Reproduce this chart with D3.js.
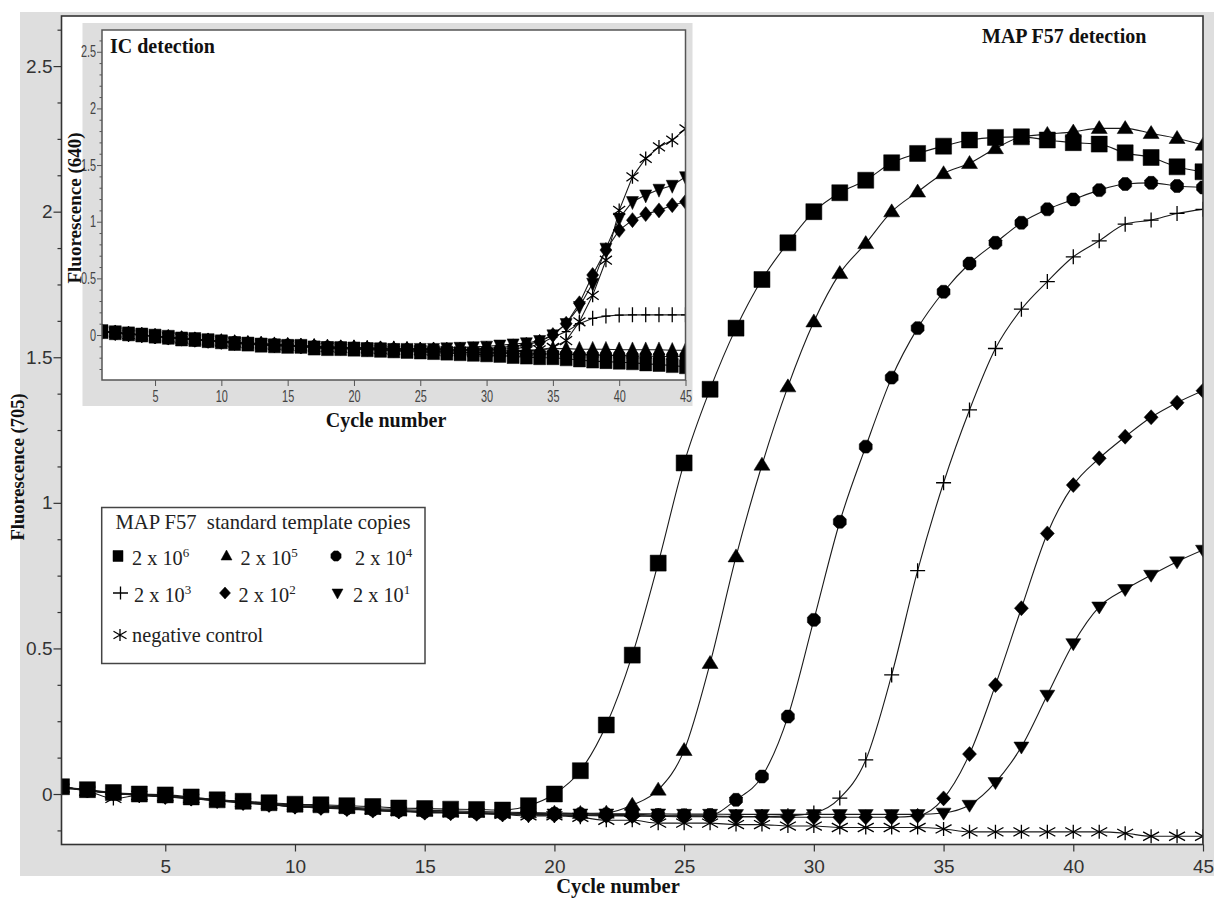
<!DOCTYPE html>
<html><head><meta charset="utf-8">
<script src="https://cdn.jsdelivr.net/npm/d3@7"></script>
<style>body{margin:0;background:#fff} svg{display:block}</style>
</head><body>
<svg id="chart" width="1214" height="899"></svg>
<script>
// ---------------- DATA ----------------
const cycles = [1,2,3,4,5,6,7,8,9,10,11,12,13,14,15,16,17,18,19,20,21,22,23,24,25,26,27,28,29,30,31,32,33,34,35,36,37,38,39,40,41,42,43,44,45];
const xTicks = [5,10,15,20,25,30,35,40,45];
const mainYTicks = [0,0.5,1,1.5,2,2.5];
const mainYMinor = [-0.125,0.125,0.25,0.375,0.625,0.75,0.875,1.125,1.25,1.375,1.625,1.75,1.875,2.125,2.25,2.375,2.625];
const insetYTicks = [0,0.5,1,1.5,2,2.5];
const insetYMinor = [-0.3,-0.2,-0.1,0.1,0.2,0.3,0.4,0.6,0.7,0.8,0.9,1.1,1.2,1.3,1.4,1.6,1.7,1.8,1.9,2.1,2.2,2.3,2.4,2.6];

// MAP F57 detection, Fluorescence (705)
const map2e6 = [0.025,0.015,0.005,0.0,-0.003,-0.01,-0.02,-0.025,-0.03,-0.035,-0.037,-0.04,-0.043,-0.048,-0.05,-0.052,-0.053,-0.055,-0.04,0.0,
  0.08,0.237,0.477,0.793,1.137,1.39,1.60,1.767,1.893,2.0,2.065,2.108,2.168,2.2,2.225,2.246,2.255,2.257,2.246,2.237,2.232,2.202,2.186,2.154,2.137];
const map2e5 = [0.025,0.012,0.003,-0.002,-0.006,-0.012,-0.02,-0.026,-0.032,-0.037,-0.04,-0.045,-0.05,-0.053,-0.056,-0.058,-0.06,-0.062,-0.064,-0.065,-0.066,-0.065,
  -0.038,0.014,0.15,0.449,0.815,1.13,1.399,1.622,1.788,1.891,2.0,2.068,2.131,2.166,2.217,2.257,2.266,2.274,2.286,2.286,2.269,2.252,2.229];
const map2e4 = [0.025,0.012,0.002,-0.003,-0.008,-0.014,-0.022,-0.028,-0.034,-0.04,-0.043,-0.048,-0.053,-0.057,-0.06,-0.062,-0.064,-0.066,-0.067,-0.068,-0.069,-0.07,-0.07,-0.072,-0.073,-0.072,
  -0.02,0.06,0.266,0.598,0.935,1.193,1.43,1.6,1.725,1.822,1.893,1.962,2.008,2.042,2.074,2.095,2.099,2.088,2.083];
const map2e3 = [0.025,0.012,0.002,-0.004,-0.009,-0.015,-0.023,-0.03,-0.036,-0.042,-0.046,-0.05,-0.055,-0.058,-0.062,-0.064,-0.066,-0.068,-0.07,-0.071,-0.072,-0.073,-0.074,-0.075,-0.076,-0.076,-0.077,-0.077,-0.075,-0.065,
  -0.014,0.117,0.409,0.767,1.069,1.319,1.53,1.665,1.76,1.845,1.9,1.957,1.971,1.994,2.008];
const map2e2 = [0.025,0.012,0.002,-0.004,-0.01,-0.016,-0.024,-0.031,-0.038,-0.044,-0.048,-0.052,-0.057,-0.06,-0.064,-0.066,-0.068,-0.07,-0.072,-0.073,-0.074,-0.075,-0.076,-0.077,-0.078,-0.078,-0.079,-0.079,-0.08,-0.08,-0.08,-0.08,-0.08,-0.075,
  -0.015,0.137,0.374,0.638,0.895,1.061,1.153,1.227,1.294,1.344,1.385];
const map2e1 = [0.025,0.013,0.003,-0.003,-0.008,-0.014,-0.022,-0.029,-0.035,-0.041,-0.045,-0.05,-0.054,-0.058,-0.061,-0.063,-0.065,-0.066,-0.067,-0.068,-0.068,-0.068,-0.068,-0.068,-0.069,-0.069,-0.07,-0.07,-0.07,-0.07,-0.07,-0.07,-0.07,-0.07,-0.065,
  -0.038,0.04,0.162,0.34,0.517,0.643,0.703,0.752,0.798,0.838];
const mapNeg = [0.02,0.01,-0.015,-0.005,-0.01,-0.015,-0.02,-0.03,-0.035,-0.045,-0.045,-0.05,-0.055,-0.06,-0.06,-0.065,-0.065,-0.07,-0.075,-0.075,-0.08,-0.09,-0.09,-0.1,-0.1,-0.1,-0.105,-0.105,-0.11,-0.11,-0.115,-0.115,-0.115,-0.115,-0.12,-0.13,-0.13,-0.13,-0.13,-0.13,-0.13,-0.135,-0.145,-0.145,-0.145];

// IC detection, Fluorescence (640)
const ic2e6 = [0.03,0.02,0.01,0.0,-0.01,-0.02,-0.035,-0.04,-0.05,-0.06,-0.075,-0.08,-0.09,-0.095,-0.1,-0.1,-0.115,-0.12,-0.12,-0.125,-0.13,-0.135,-0.14,-0.145,-0.15,-0.155,-0.16,-0.165,-0.17,-0.175,-0.18,-0.19,-0.195,-0.2,-0.2,-0.21,-0.22,-0.23,-0.235,-0.24,-0.245,-0.255,-0.26,-0.27,-0.28];
const ic2e5 = [0.03,0.02,0.01,0.0,-0.01,-0.02,-0.03,-0.04,-0.05,-0.055,-0.065,-0.07,-0.08,-0.085,-0.09,-0.095,-0.1,-0.105,-0.11,-0.11,-0.115,-0.12,-0.12,-0.125,-0.13,-0.13,-0.135,-0.135,-0.14,-0.14,-0.14,-0.14,-0.135,-0.13,-0.12,-0.12,-0.125,-0.125,-0.125,-0.13,-0.13,-0.13,-0.13,-0.135,-0.135];
const ic2e4 = [0.03,0.02,0.01,0.0,-0.012,-0.022,-0.035,-0.042,-0.052,-0.06,-0.07,-0.078,-0.085,-0.09,-0.095,-0.1,-0.108,-0.112,-0.116,-0.12,-0.124,-0.128,-0.132,-0.136,-0.14,-0.145,-0.148,-0.152,-0.156,-0.16,-0.162,-0.165,-0.165,-0.165,-0.17,-0.17,-0.175,-0.175,-0.18,-0.18,-0.185,-0.185,-0.19,-0.19,-0.19];
const ic2e3 = [0.03,0.02,0.01,0.0,-0.01,-0.02,-0.03,-0.04,-0.05,-0.06,-0.065,-0.075,-0.08,-0.085,-0.09,-0.095,-0.1,-0.105,-0.11,-0.11,-0.115,-0.12,-0.12,-0.125,-0.13,-0.13,-0.135,-0.135,-0.13,-0.13,-0.125,-0.12,-0.11,-0.08,
  -0.02,0.03,0.10,0.147,0.167,0.176,0.178,0.178,0.178,0.178,0.178];
const ic2e2 = [0.03,0.02,0.01,0.0,-0.01,-0.02,-0.03,-0.04,-0.05,-0.06,-0.07,-0.075,-0.08,-0.09,-0.09,-0.1,-0.1,-0.11,-0.11,-0.115,-0.12,-0.12,-0.125,-0.125,-0.13,-0.13,-0.13,-0.13,-0.125,-0.12,-0.11,-0.1,-0.085,
  -0.06,0.0,0.10,0.28,0.53,0.75,0.926,1.014,1.067,1.10,1.146,1.176];
const ic2e1 = [0.03,0.02,0.01,0.0,-0.01,-0.02,-0.03,-0.04,-0.045,-0.055,-0.065,-0.07,-0.075,-0.085,-0.09,-0.095,-0.1,-0.105,-0.11,-0.11,-0.115,-0.115,-0.12,-0.12,-0.12,-0.12,-0.115,-0.11,-0.105,-0.1,-0.09,-0.08,-0.07,
  -0.05,0.0,0.10,0.25,0.456,0.765,1.03,1.176,1.235,1.285,1.32,1.396];
const icNeg = [0.03,0.02,0.005,0.0,-0.01,-0.02,-0.03,-0.04,-0.05,-0.06,-0.065,-0.075,-0.08,-0.09,-0.09,-0.1,-0.11,-0.11,-0.115,-0.12,-0.125,-0.13,-0.135,-0.14,-0.14,-0.145,-0.15,-0.15,-0.155,-0.155,-0.155,-0.15,-0.14,-0.13,-0.11,
  -0.05,0.117,0.35,0.66,1.10,1.396,1.558,1.66,1.72,1.82];

const legendTitle = "MAP F57  standard template copies";
const legendBase = "2 x 10";
const legendExps = ["6","5","4","3","2","1"];
const negLabel = "negative control";

// ---------------- SETUP ----------------
const serif = "'Liberation Serif','Times New Roman',serif";
const sans = "'Liberation Sans',Arial,sans-serif";
const svg = d3.select('#chart');
svg.append('rect').attr('width',1214).attr('height',899).attr('fill','#fff');

function markerPath(type, w, h){
  const a=w/2, b=h/2;
  switch(type){
    case 'square': return `M${-a},${-b}H${a}V${b}H${-a}Z`;
    case 'triUp': return `M0,${-b*1.2}L${a},${b*0.8}L${-a},${b*0.8}Z`;
    case 'triDown': return `M0,${b*1.2}L${a},${-b*0.8}L${-a},${-b*0.8}Z`;
    case 'diamond': return `M0,${-b}L${a},0L0,${b}L${-a},0Z`;
    case 'hex': {
      const pts=[]; for(let i=0;i<8;i++){const t=Math.PI/8+i*Math.PI/4; pts.push([a*Math.cos(t), b*Math.sin(t)]);}
      return 'M'+pts.map(p=>p.join(',')).join('L')+'Z';
    }
    case 'plus': return `M${-a},0H${a}M0,${-b}V${b}`;
    case 'star': return `M0,${-b}V${b}M${-a},${-b*0.62}L${a},${b*0.62}M${-a},${b*0.62}L${a},${-b*0.62}`;
  }
}
const isStroke = t => t==='plus' || t==='star';

function drawSeries(g, xs, ys, series, sizes, curve){
  series.forEach(s=>{
    const pts = cycles.map((c,i)=>[c, s.values[i]]);
    g.append('path').attr('d', d3.line().x(d=>xs(d[0])).y(d=>ys(d[1])).curve(curve)(pts))
      .attr('fill','none').attr('stroke','#1a1a1a').attr('stroke-width',1.1);
  });
  series.forEach(s=>{
    const sz = sizes[s.shape];
    const pts = cycles.map((c,i)=>[c, s.values[i]]);
    g.selectAll(null).data(pts).enter().append('path')
      .attr('transform', d=>`translate(${xs(d[0])},${ys(d[1])})`)
      .attr('d', markerPath(s.shape, sz[0], sz[1]))
      .attr('fill', isStroke(s.shape)?'none':'#000')
      .attr('stroke', '#000')
      .attr('stroke-width', isStroke(s.shape)?1.3:0.5);
  });
}

// ---------------- MAIN CHART ----------------
svg.append('rect').attr('x',20).attr('y',12).attr('width',1194).attr('height',864).attr('fill','#dedede');
const M = {l:61.5, r:1203, t:16, b:844.5};
const x = d3.scaleLinear().domain([1,45]).range([M.l,M.r]);
const y = d3.scaleLinear().domain([-0.1734,2.672]).range([M.b,M.t]);
svg.append('rect').attr('x',M.l).attr('y',M.t).attr('width',M.r-M.l).attr('height',M.b-M.t).attr('fill','#fff');
svg.append('clipPath').attr('id','clipMain').append('rect').attr('x',M.l).attr('y',M.t).attr('width',M.r-M.l).attr('height',M.b-M.t);

const mainSeries = [
  {shape:'star', values:mapNeg},
  {shape:'triDown', values:map2e1},
  {shape:'diamond', values:map2e2},
  {shape:'plus', values:map2e3},
  {shape:'hex', values:map2e4},
  {shape:'triUp', values:map2e5},
  {shape:'square', values:map2e6}
];
const mainSizes = {square:[16,16], triUp:[16,13], triDown:[15,12], diamond:[14,15], hex:[14,14], plus:[15,15], star:[16,14]};
drawSeries(svg.append('g').attr('clip-path','url(#clipMain)'), x, y, mainSeries, mainSizes, d3.curveMonotoneX);

// axes
const gx = svg.append('g').attr('transform',`translate(0,${M.b})`)
  .call(d3.axisBottom(x).tickValues(xTicks).tickSize(7).tickPadding(8).tickFormat(d=>String(d)));
const gy = svg.append('g').attr('transform',`translate(${M.l},0)`)
  .call(d3.axisLeft(y).tickValues(mainYTicks).tickSize(8).tickPadding(1).tickFormat(d=>String(d)));
const gym = svg.append('g').attr('transform',`translate(${M.l},0)`)
  .call(d3.axisLeft(y).tickValues(mainYMinor).tickSize(4).tickFormat(''));
[gx,gy,gym].forEach(g=>{ g.select('.domain').remove(); g.selectAll('line').attr('stroke','#333').attr('stroke-width',1.2);
  g.selectAll('text').attr('font-family',sans).attr('font-size',19).attr('fill','#333'); });
svg.append('rect').attr('x',M.l).attr('y',M.t).attr('width',M.r-M.l).attr('height',M.b-M.t)
  .attr('fill','none').attr('stroke','#333').attr('stroke-width',1.6);

svg.append('text').attr('x',618).attr('y',893).attr('text-anchor','middle')
  .attr('font-family',serif).attr('font-weight','bold').attr('font-size',20.5).attr('fill','#111').text('Cycle number');
svg.append('text').attr('transform','translate(24,467) rotate(-90)').attr('text-anchor','middle')
  .attr('font-family',serif).attr('font-weight','bold').attr('font-size',18.5).attr('fill','#111').text('Fluorescence (705)');
svg.append('text').attr('x',982).attr('y',43)
  .attr('font-family',serif).attr('font-weight','bold').attr('font-size',20).attr('fill','#111').text('MAP F57 detection');

// ---------------- INSET ----------------
svg.append('rect').attr('x',82.5).attr('y',23).attr('width',610).attr('height',383).attr('fill','#dedede');
const I = {l:102, r:685.5, t:30, b:380};
const xi = d3.scaleLinear().domain([1,45]).range([I.l,I.r]);
const yi = d3.scaleLinear().domain([-0.397,2.692]).range([I.b,I.t]);
svg.append('rect').attr('x',I.l).attr('y',I.t).attr('width',I.r-I.l).attr('height',I.b-I.t).attr('fill','#fff');
svg.append('clipPath').attr('id','clipInset').append('rect').attr('x',I.l).attr('y',I.t).attr('width',I.r-I.l).attr('height',I.b-I.t);
const insetSeries = [
  {shape:'hex', values:ic2e4},
  {shape:'triUp', values:ic2e5},
  {shape:'plus', values:ic2e3},
  {shape:'star', values:icNeg},
  {shape:'diamond', values:ic2e2},
  {shape:'triDown', values:ic2e1},
  {shape:'square', values:ic2e6}
];
const insetSizes = {square:[12,14], triUp:[12,13], triDown:[12,13], diamond:[12,15], hex:[12,14], plus:[9,15], star:[12,14]};
drawSeries(svg.append('g').attr('clip-path','url(#clipInset)'), xi, yi, insetSeries, insetSizes, d3.curveLinear);

const sx = 0.68;
const gix = svg.append('g').attr('transform',`translate(0,${I.b})`)
  .call(d3.axisBottom(xi).tickValues(xTicks).tickSize(6).tickPadding(5).tickFormat(d=>String(d)));
const giy = svg.append('g').attr('transform',`translate(${I.l},0)`)
  .call(d3.axisLeft(yi).tickValues(insetYTicks).tickSize(5).tickPadding(1).tickFormat(d=>String(d)));
const giym = svg.append('g').attr('transform',`translate(${I.l},0)`)
  .call(d3.axisLeft(yi).tickValues(insetYMinor).tickSize(2.5).tickFormat(''));
[gix,giy,giym].forEach(g=>{ g.select('.domain').remove(); g.selectAll('line').attr('stroke','#555').attr('stroke-width',1);
  g.selectAll('text').attr('font-family',sans).attr('font-size',16).attr('fill','#444'); });
gix.selectAll('text').attr('transform',`scale(${sx},1)`);
giy.selectAll('text').attr('x',-6/sx).attr('transform',`scale(${sx},1)`);
svg.append('rect').attr('x',I.l).attr('y',I.t).attr('width',I.r-I.l).attr('height',I.b-I.t)
  .attr('fill','none').attr('stroke','#555').attr('stroke-width',1.5);

svg.append('text').attr('x',386).attr('y',427).attr('text-anchor','middle')
  .attr('font-family',serif).attr('font-weight','bold').attr('font-size',20).attr('fill','#111').text('Cycle number');
svg.append('text').attr('transform','translate(81,208) rotate(-90)').attr('text-anchor','middle')
  .attr('font-family',serif).attr('font-weight','bold').attr('font-size',19).attr('fill','#111').text('Fluorescence (640)');
svg.append('text').attr('x',110).attr('y',53)
  .attr('font-family',serif).attr('font-weight','bold').attr('font-size',20).attr('fill','#111').text('IC detection');

// ---------------- LEGEND ----------------
const L = svg.append('g');
L.append('rect').attr('x',101.7).attr('y',507.5).attr('width',323.3).attr('height',156)
  .attr('fill','#fff').attr('stroke','#444').attr('stroke-width',1.5);
L.append('text').attr('x',115.5).attr('y',529).attr('xml:space','preserve').style('white-space','pre')
  .attr('font-family',serif).attr('font-size',20.6).attr('fill','#222').text(legendTitle);
const legShapes = ['square','triUp','hex','plus','diamond','triDown'];
const legPos = [[118,556,132,565],[226.5,556,240.5,565],[336,556,355,565],[120.5,593,134,602],[225,593,238.5,602],[337.5,593,353,602]];
const legSizes = {square:[10,11], triUp:[11,10], hex:[11,11], plus:[15,13], diamond:[11,12], triDown:[11,10], star:[13,12]};
legShapes.forEach((sh,i)=>{
  const p = legPos[i];
  L.append('path').attr('transform',`translate(${p[0]},${p[1]})`).attr('d',markerPath(sh,legSizes[sh][0],legSizes[sh][1]))
    .attr('fill',isStroke(sh)?'none':'#000').attr('stroke','#000').attr('stroke-width',isStroke(sh)?1.3:0.5);
  const t = L.append('text').attr('x',p[2]).attr('y',p[3]).attr('font-family',serif).attr('font-size',20.3).attr('fill','#222');
  t.append('tspan').text(legendBase);
  t.append('tspan').attr('dy',-8).attr('font-size',13).text(legendExps[i]);
});
L.append('path').attr('transform','translate(120,635)').attr('d',markerPath('star',13,12))
  .attr('fill','none').attr('stroke','#000').attr('stroke-width',1.3);
L.append('text').attr('x',132).attr('y',642).attr('font-family',serif).attr('font-size',20.3).attr('fill','#222').text(negLabel);
</script>
</body></html>
